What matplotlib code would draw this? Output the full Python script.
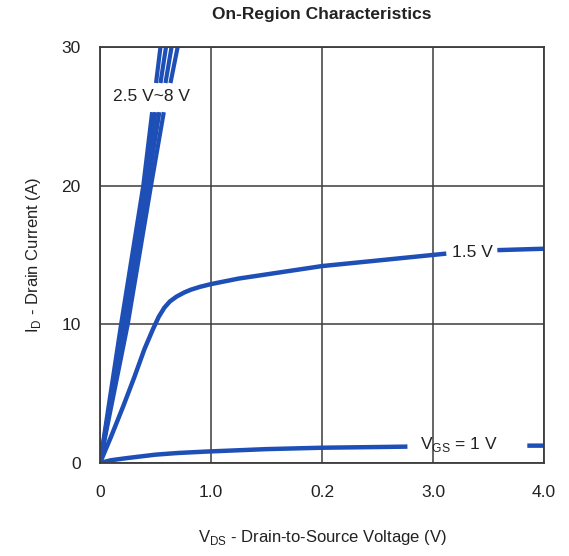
import matplotlib
matplotlib.use('agg')
import matplotlib.pyplot as plt
import numpy as np

plt.rcParams['font.family'] = ['Liberation Sans', 'DejaVu Sans']

######## data ########
# steep family of curves (2.5 V ~ 8 V), gap where the label sits
steep_id = [0, 10, 20, 25.3, np.nan, 27.4, 30.0]
steep_vds = [
    [0, 0.19, 0.39, 0.47, np.nan, 0.505, 0.545],
    [0, 0.21, 0.41, 0.50, np.nan, 0.545, 0.595],
    [0, 0.23, 0.43, 0.535, np.nan, 0.59, 0.645],
    [0, 0.25, 0.46, 0.575, np.nan, 0.635, 0.70],
]

vds_15 = [0, 0.1, 0.21, 0.31, 0.4, 0.48, 0.53, 0.58, 0.63, 0.69, 0.76, 0.82, 0.9, 1.0,
          1.25, 1.5, 2.0, 2.5, 3.12, np.nan, 3.58, 4.0]
id_15 = [0, 1.9, 4.1, 6.2, 8.2, 9.7, 10.55, 11.2, 11.65, 12.0, 12.3, 12.5, 12.7, 12.9,
         13.3, 13.6, 14.2, 14.6, 15.1, np.nan, 15.35, 15.45]

vds_1 = [0, 0.1, 0.25, 0.5, 0.7, 0.95, 1.5, 2.0, 2.5, 2.77, np.nan, 3.85, 4.0]
id_1 = [0, 0.2, 0.36, 0.6, 0.72, 0.82, 1.0, 1.1, 1.15, 1.18, np.nan, 1.25, 1.25]

xticks = [0, 1.0, 2.0, 3.0, 4.0]
xticklabels = ['0', '1.0', '0.2', '3.0', '4.0']
yticks = [0, 10, 20, 30]

blue = '#1e4fb6'
gridc = '#3c3c3c'
txt = '#222222'

fig = plt.figure(figsize=(5.69, 5.56), dpi=100)
ax = fig.add_axes([0.1757, 0.1673, 0.7803, 0.7482])

for v in steep_vds:
    ax.plot(v, steep_id, color=blue, lw=3.0, solid_capstyle='butt')
ax.plot(vds_15, id_15, color=blue, lw=3.2, solid_capstyle='butt')
ax.plot(vds_1, id_1, color=blue, lw=3.2, solid_capstyle='butt')

ax.set_xlim(0, 4.0)
ax.set_ylim(0, 30)
ax.set_xticks(xticks)
ax.set_xticklabels(xticklabels)
ax.set_yticks(yticks)
ax.tick_params(length=0, labelsize=12.5, labelcolor=txt)
ax.tick_params(axis='x', pad=16)
ax.tick_params(axis='y', pad=14)
ax.grid(True, color=gridc, lw=1.1)
for s in ax.spines.values():
    s.set_color(gridc)
    s.set_linewidth(1.3)

ax.text(0.465, 26.4, '2.5 V~8 V', fontsize=12.5, color=txt, ha='center', va='center')
ax.text(3.36, 15.2, '1.5 V', fontsize=12.5, color=txt, ha='center', va='center')
ax.text(3.23, 1.35, r'V$_\mathregular{GS}$ = 1 V', fontsize=12.5, color=txt, ha='center', va='center')

ax.set_title('On-Region Characteristics', fontsize=12.5, fontweight='bold', color=txt, pad=20)
ax.set_xlabel(r'V$_\mathregular{DS}$ - Drain-to-Source Voltage (V)', fontsize=12, color=txt, labelpad=20)
ax.set_ylabel(r'I$_\mathregular{D}$ - Drain Current (A)', fontsize=12, color=txt, labelpad=13)

fig.savefig('out.png', dpi=100)
